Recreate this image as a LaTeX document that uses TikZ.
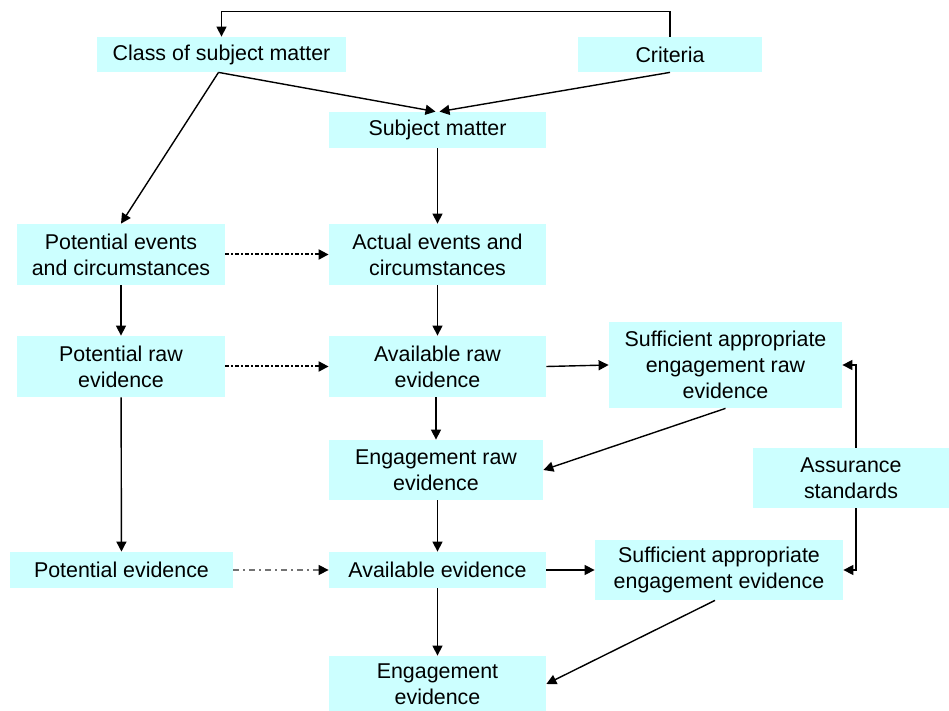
\documentclass[tikz,border=0pt]{standalone}
\usepackage{fontspec}
\setmainfont{Liberation Sans}
\usetikzlibrary{arrows.meta}
\definecolor{boxcyan}{RGB}{204,255,255}
\tikzset{
    box/.style 2 args={fill=boxcyan, inner sep=0pt, align=center,
        minimum width=#1*0.5pt, minimum height=#2*0.5pt,
        font=\fontsize{10.7}{13}\selectfont},
    link/.style={-{Triangle[length=5pt,width=5pt,color=black]}, line width=0.7pt},
    potlink/.style={link, line width=1pt, dash pattern=on 2pt off 1pt on 1pt off 1pt},
    evlink/.style={link, black!55, dash pattern=on 3pt off 2pt on 1pt off 2pt}
}

\begin{document}
\begin{tikzpicture}[x=0.5pt, y=-0.5pt]
        \useasboundingbox (0,0) rectangle (949,711);
        \node[box={249}{35}] (cls) at (221.5,54.5) {Class of subject matter};
        \node[box={184}{35}] (crit) at (670,54.5) {Criteria};
        \node[box={217}{36}] (subj) at (437.5,130) {Subject matter};
        \node[box={208}{61}] (pev) at (121,254.5) {Potential events\\and circumstances};
        \node[box={217}{61}] (aev) at (437.5,254.5) {Actual events and\\circumstances};
        \node[box={208}{61}] (praw) at (121,366.5) {Potential raw\\evidence};
        \node[box={217}{61}] (araw) at (437.5,366.5) {Available raw\\evidence};
        \node[box={233}{86}] (sraw) at (725.5,365) {Sufficient appropriate\\engagement raw\\evidence};
        \node[box={214}{60}] (eraw) at (436,470) {Engagement raw\\evidence};
        \node[box={196}{60}] (asr) at (851,478) {Assurance\\standards};
        \node[box={223}{36}] (pevi) at (121.5,570) {Potential evidence};
        \node[box={217}{36}] (aevi) at (437.5,570) {Available evidence};
        \node[box={248}{60}] (sevi) at (719,570) {Sufficient appropriate\\engagement evidence};
        \node[box={217}{56}] (eevi) at (437.5,684) {Engagement\\evidence};

        \draw[link] (crit.north) -- ++(0,-25) -| (cls.north);
        \draw[link] ([xshift=-1.5pt]cls.south) -- ([xshift=-1pt]subj.north);
        \draw[link] (crit.south) -- ([xshift=1pt]subj.north);
        \draw[link] ([xshift=-1.5pt]cls.south) -- (pev.north);
        \draw[link] (subj) -- (aev);
        \draw[potlink] (pev) -- (aev);
        \draw[link] (pev) -- (praw);
        \draw[link] (aev) -- (araw);
        \draw[potlink] (praw) -- (araw);
        \draw[link] (araw.east) -- (sraw.west);
        \draw[link] (araw.south -| eraw) -- (eraw);
        \draw[link] (sraw.south) -- (eraw.east);
        \draw[link] ([xshift=2.5pt]asr.north) |- (sraw.east);
        \draw[link] ([xshift=2.5pt]asr.south) |- (sevi.east);
        \draw[link] (praw) -- (pevi);
        \draw[link] (eraw.south -| aevi) -- (aevi);
        \draw[evlink] (pevi) -- (aevi);
        \draw[link] (aevi) -- (sevi);
        \draw[link] (aevi) -- (eevi);
        \draw[link] ([xshift=-2pt]sevi.south) -- (eevi.east);
    \end{tikzpicture}
\end{document}
